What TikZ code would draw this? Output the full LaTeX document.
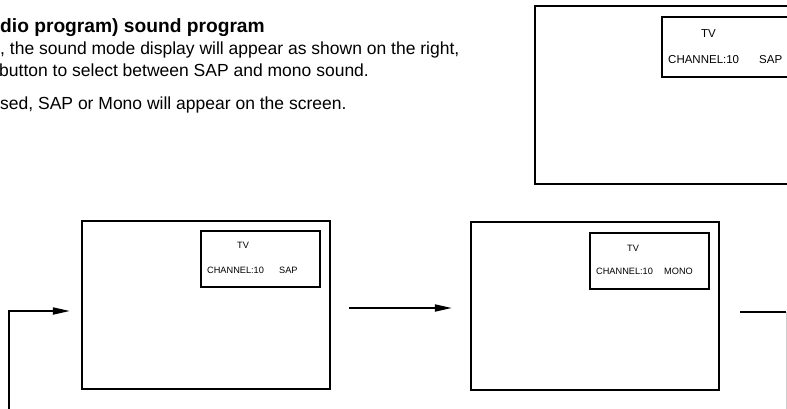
\documentclass[tikz,border=0pt]{standalone}
\usepackage{fontspec}
\setmainfont{Liberation Sans}
\usetikzlibrary{arrows.meta,calc}
\begin{document}
\begin{tikzpicture}[x=1pt,y=-1pt,
  screen/.style={draw, line width=2.2pt, inner sep=0pt, minimum width=248pt, minimum height=168pt},
  osd/.style={draw, line width=2pt, inner sep=0pt, minimum width=119pt, minimum height=56pt},
  lbl/.style={anchor=base west, inner sep=0pt},
  small/.style={lbl, font=\fontsize{9.2}{11}\selectfont},
  big/.style={lbl, font=\fontsize{11.5}{13}\selectfont},
  body/.style={lbl, font=\fontsize{17.5}{21}\selectfont},
  conn/.style={line width=1.8pt, -{Triangle[length=17pt,width=7pt]}},
  plain/.style={line width=1.8pt}]
\useasboundingbox (0,0) rectangle (787,408);
\clip (0,0) rectangle (787,408);
% text
\node[lbl, font=\bfseries\fontsize{19.2}{23}\selectfont] (t1) at (0,32) {dio program) sound program};
\node[body] (t2) at (0,54) {, the sound mode display will appear as shown on the right,};
\node[body] (t3) at (-1,76) {button to select between SAP and mono sound.};
\node[body] (t4) at (0,109) {sed, SAP or Mono will appear on the screen.};
% top-right screen
\node[screen, minimum width=266pt, minimum height=178pt] (s0) at (668,95) {};
\node[osd, minimum width=128pt, minimum height=60pt] (o0) at (726,47) {};
\node[big] (tv0) at (701,37) {TV};
\node[big] (ch0) at (668,63) {CHANNEL:10};
\node[big] (md0) at (759,63) {SAP};
% bottom-left screen
\node[screen] (s1) at (206,305) {};
\node[osd] (o1) at (260.5,259) {};
\node[small] (tv1) at (237,248) {TV};
\node[small] (ch1) at (207,273) {CHANNEL:10};
\node[small] (md1) at (279,273) {SAP};
% bottom-right screen
\node[screen] (s2) at (595,306) {};
\node[osd] (o2) at (649.5,261) {};
\node[small] (tv2) at (627,251) {TV};
\node[small] (ch2) at (596,274) {CHANNEL:10};
\node[small] (md2) at (664,274) {MONO};
% connectors
\coordinate (lb) at (9,412);
\draw[conn] (lb) |- ($(s1.west)+(-11,6)$);
\draw[conn] ($(s1.east)+(18,3)$) -- ($(s2.west)+(-18,2)$);
\coordinate (rc) at (786,312);
\coordinate (rb) at (786,412);
\draw[plain] ($(s2.east)+(20,6)$) -- (rc);
\draw[gray!40, line width=1pt] (rc) -- (rb);
\end{tikzpicture}
\end{document}
